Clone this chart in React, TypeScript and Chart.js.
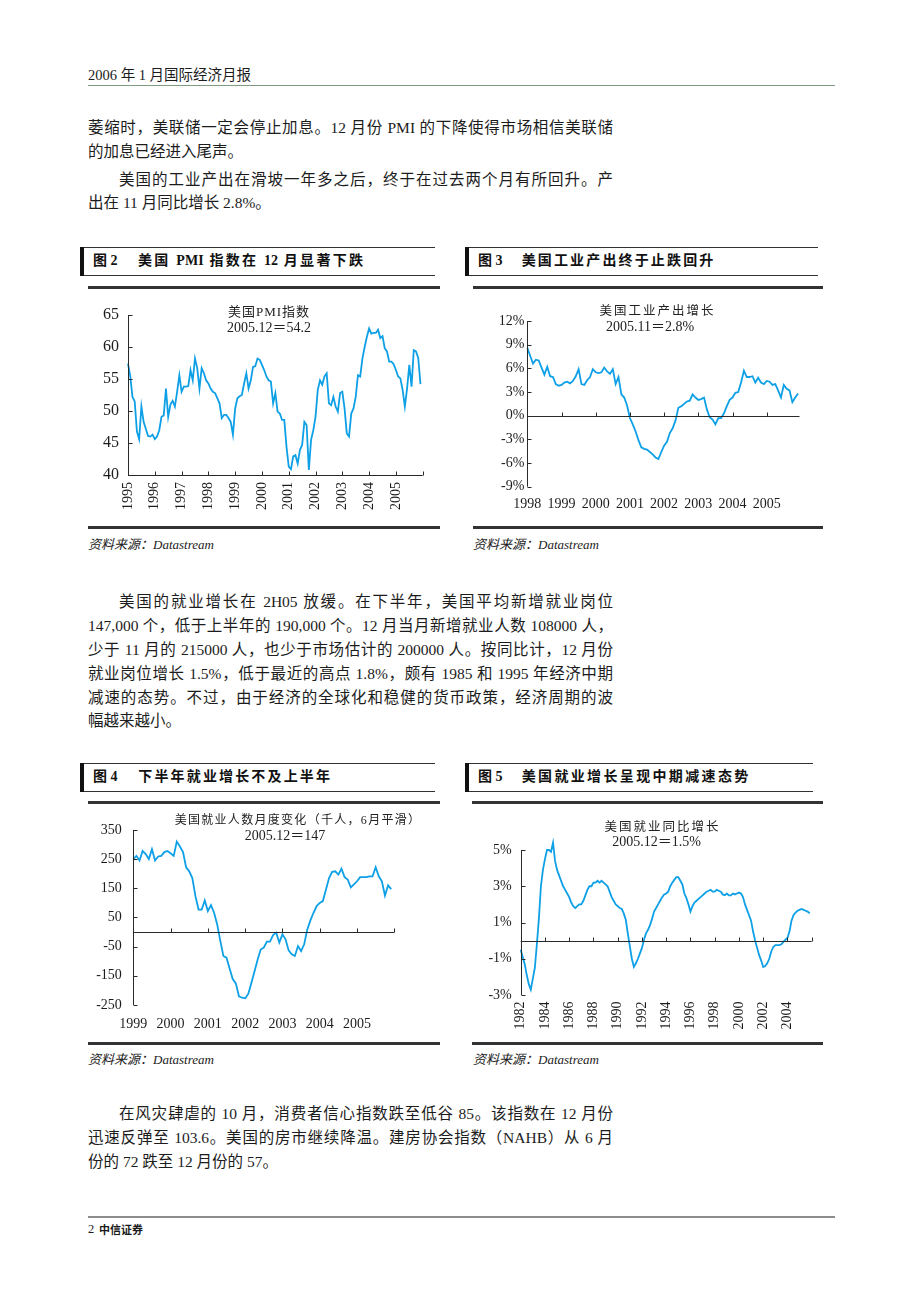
import React, { useEffect, useRef } from 'react';
import { Chart, registerables } from 'chart.js';

Chart.register(...registerables);

// ---------------- DATA ----------------
// Fig 2: US PMI, monthly Jan 1995 - Dec 2005
const PMI_YEARS = ['1995', '1996', '1997', '1998', '1999', '2000', '2001', '2002', '2003', '2004', '2005'];
const PMI_VALUES = [
  57.4, 55.5, 52.2, 51.5, 46.8, 45.6, 50.7, 48.3, 47.2, 46.1, 46.0, 46.3,
  45.6, 46.0, 47.0, 49.1, 49.3, 53.5, 49.1, 51.0, 51.6, 50.7, 53.0, 55.6,
  53.0, 53.8, 53.8, 53.9, 56.4, 54.8, 58.2, 56.7, 53.5, 56.7, 55.9, 54.8,
  54.3, 53.5, 53.0, 52.8, 52.0, 51.2, 48.9, 49.4, 49.4, 48.9, 48.3, 46.3,
  50.4, 52.0, 52.3, 52.5, 54.3, 55.9, 53.5, 54.8, 56.9, 57.0, 58.2, 58.0,
  57.2, 56.4, 55.4, 54.8, 54.6, 51.2, 52.8, 49.9, 49.6, 48.6, 48.6, 44.4,
  41.3, 40.9, 42.9, 43.1, 41.8, 43.9, 44.7, 48.3, 47.8, 40.8, 45.5, 47.0,
  49.1, 53.3, 54.8, 54.1, 55.4, 55.9, 51.2, 50.9, 52.2, 50.7, 49.9, 52.8,
  53.0, 50.4, 46.5, 46.0, 49.6, 50.4, 52.2, 55.6, 55.4, 58.2, 60.0, 61.6,
  62.9, 62.1, 62.2, 62.2, 62.7, 61.4, 61.7, 59.8, 59.3, 57.7, 57.7, 57.3,
  56.4, 55.4, 55.1, 53.3, 50.7, 53.5, 57.2, 53.8, 59.5, 59.3, 58.3, 54.2,
];
const PMI_Y_TICKS = [40, 45, 50, 55, 60, 65];

// Fig 3: US industrial production growth (%), monthly from 1998
const IP_YEARS = ['1998', '1999', '2000', '2001', '2002', '2003', '2004', '2005'];
const IP_VALUES = [
  8.6, 7.6, 6.6, 7.1, 7.0, 6.1, 5.2, 6.2, 5.0, 4.9, 4.0, 3.8,
  3.9, 4.2, 4.3, 4.1, 4.4, 5.0, 5.9, 4.0, 3.9, 4.5, 4.9, 5.9,
  5.5, 5.4, 5.5, 6.1, 5.6, 5.3, 5.9, 4.0, 4.9, 2.7, 2.3, 1.3,
  -0.3, -1.1, -2.0, -3.1, -4.0, -4.2, -4.3, -4.6, -4.9, -5.3, -5.5, -4.6,
  -3.8, -3.3, -2.2, -1.6, -0.6, 1.0, 1.2, 1.5, 1.8, 1.9, 2.7, 2.3,
  2.0, 2.1, 2.3, 0.8, -0.2, -0.5, -1.1, -0.3, -0.3, 0.3, 1.2, 2.0,
  2.3, 2.9, 3.0, 4.2, 5.7, 4.9, 4.9, 5.0, 4.2, 4.8, 4.2, 4.0,
  4.4, 4.3, 3.9, 4.0, 3.2, 2.3, 3.9, 3.4, 3.2, 1.7, 2.3, 2.8,
];
const IP_Y_TICKS = [-9, -6, -3, 0, 3, 6, 9, 12];

// Fig 4: US payroll monthly change (thousand, 6m smoothed), Jan 1999 - Dec 2005
const NFP_YEARS = ['1999', '2000', '2001', '2002', '2003', '2004', '2005'];
const NFP_VALUES = [
  250, 261, 245, 278, 267, 250, 284, 245, 259, 261, 274, 278,
  270, 261, 310, 293, 274, 222, 208, 185, 123, 77, 77, 108,
  72, 92, 66, 26, -30, -82, -88, -125, -161, -176, -220, -225,
  -227, -212, -175, -135, -95, -60, -53, -33, -33, -10, -2, -36,
  -8, -25, -63, -76, -82, -48, -65, -42, 9, 40, 66, 89,
  100, 106, 145, 185, 206, 208, 197, 217, 188, 180, 153, 163,
  174, 188, 188, 188, 191, 191, 222, 191, 174, 125, 160, 147,
];
const NFP_Y_TICKS = [-250, -150, -50, 50, 150, 250, 350];

// Fig 5: US employment YoY growth (%), bimonthly Jan 1982 - Nov 2005
const EMP_YEARS = ['1982', '1984', '1986', '1988', '1990', '1992', '1994', '1996', '1998', '2000', '2002', '2004'];
const EMP_VALUES = [
  -0.5, -0.9, -1.3, -1.9, -2.4, -2.7,
  -2.1, -1.5, -0.2, 1.2, 3.0, 3.9,
  4.5, 5.0, 5.0, 4.9, 5.4, 4.4,
  3.9, 3.6, 3.3, 3.0, 2.8, 2.6,
  2.4, 2.1, 1.9, 1.8, 1.9, 2.0,
  2.0, 2.2, 2.5, 2.8, 3.0, 3.0,
  3.2, 3.2, 3.3, 3.2, 3.3, 3.2,
  3.1, 3.0, 2.7, 2.4, 2.2, 2.0,
  1.9, 1.8, 1.75, 1.5, 1.15, 0.4,
  -0.3, -1.0, -1.45, -1.25, -1.0, -0.7,
  -0.4, 0.05, 0.4, 0.6, 0.85, 1.2,
  1.6, 1.8, 2.0, 2.2, 2.4, 2.55,
  2.6, 2.7, 3.0, 3.2, 3.35, 3.5,
  3.5, 3.3, 3.1, 2.6, 2.35, 2.0,
  1.6, 1.9, 2.1, 2.2, 2.3, 2.4,
  2.5, 2.6, 2.7, 2.75, 2.8, 2.7,
  2.7, 2.8, 2.75, 2.7, 2.55, 2.5,
  2.6, 2.5, 2.5, 2.6, 2.55, 2.6,
  2.65, 2.6, 2.4, 2.0, 1.7, 1.4,
  1.1, 0.5, 0.0, -0.4, -0.8, -1.1,
  -1.45, -1.4, -1.25, -1.0, -0.6, -0.35,
  -0.25, -0.25, -0.25, -0.2, -0.07, 0.05,
  0.15, 0.5, 1.1, 1.4, 1.55, 1.65,
  1.7, 1.75, 1.7, 1.65, 1.6, 1.5,
];
const EMP_Y_TICKS = [-3, -1, 1, 3, 5];

// ---------------- STYLE ----------------
const BLUE = '#0ea0e6';
const AXIS = '#2a2a2a';
const INK = '#1c1c1c';
const NUM_FONT = "'Liberation Serif', 'Times New Roman', serif";
const TEXT_FONT = "'Liberation Serif', 'Noto Sans CJK SC', serif";
const CJK_FONT = "'Noto Sans CJK SC', sans-serif";

const axesPlugin = {
  id: 'paperAxes',
  afterDatasetsDraw(chart: any, _args: any, opts: any) {
    const { ctx, chartArea: a, scales } = chart;
    const xs = scales.x;
    const ys = scales.y;
    ctx.save();
    ctx.strokeStyle = AXIS;
    ctx.lineWidth = 1;
    ctx.beginPath();
    const L = Math.round(a.left) + 0.5;
    ctx.moveTo(L, a.top);
    ctx.lineTo(L, a.bottom);
    (opts.yMarks || []).forEach((v: number) => {
      const y = Math.round(ys.getPixelForValue(v)) + 0.5;
      ctx.moveTo(L, y);
      ctx.lineTo(L + 4, y);
    });
    const y0 = Math.round(ys.getPixelForValue(opts.xAxisAt)) + 0.5;
    ctx.moveTo(a.left, y0);
    ctx.lineTo(a.right, y0);
    (opts.xMarks || []).forEach((v: number) => {
      const x = Math.round(xs.getPixelForValue(v)) + 0.5;
      ctx.moveTo(x, y0);
      ctx.lineTo(x, y0 - 4);
    });
    ctx.stroke();
    ctx.restore();
  },
};

type Spec = {
  left: number; top: number; width: number; height: number;
  points: { x: number; y: number }[];
  xMin: number; xMax: number;
  xLabels: { value: number; label: string }[];
  xMarks: number[];
  xAxisAt: number;
  yMin: number; yMax: number; yTicks: number[]; yFmt: (v: number) => string;
  yAxisWidth: number; xAxisHeight: number;
  padding: { top: number; right: number; bottom: number; left: number };
  yPad: number; xPad: number; rotate: number; yFont: number; xFont: number;
};

function LineChart({ spec }: { spec: Spec }) {
  const ref = useRef<HTMLCanvasElement>(null);
  useEffect(() => {
    const chart = new Chart(ref.current as HTMLCanvasElement, {
      type: 'line',
      data: {
        datasets: [{
          data: spec.points,
          borderColor: BLUE,
          borderWidth: 1.8,
          pointRadius: 0,
          tension: 0,
          fill: false,
          clip: false,
        }],
      },
      options: {
        animation: false,
        responsive: false,
        devicePixelRatio: 1,
        layout: { padding: spec.padding },
        plugins: {
          legend: { display: false },
          tooltip: { enabled: false },
          paperAxes: { xAxisAt: spec.xAxisAt, yMarks: spec.yTicks, xMarks: spec.xMarks },
        } as any,
        scales: {
          x: {
            type: 'linear',
            min: spec.xMin,
            max: spec.xMax,
            grid: { display: false, drawTicks: false },
            border: { display: false },
            afterBuildTicks: (s: any) => { s.ticks = spec.xLabels.map((l) => ({ value: l.value })); },
            afterFit: (s: any) => { s.height = spec.xAxisHeight; },
            ticks: {
              autoSkip: false,
              minRotation: spec.rotate,
              maxRotation: spec.rotate,
              padding: spec.xPad,
              color: INK,
              font: { family: NUM_FONT, size: spec.xFont },
              callback: (_v: any, i: number) => spec.xLabels[i] ? spec.xLabels[i].label : '',
            },
          },
          y: {
            type: 'linear',
            min: spec.yMin,
            max: spec.yMax,
            grid: { display: false, drawTicks: false },
            border: { display: false },
            afterBuildTicks: (s: any) => { s.ticks = spec.yTicks.map((v) => ({ value: v })); },
            afterFit: (s: any) => { s.width = spec.yAxisWidth; },
            ticks: {
              autoSkip: false,
              padding: spec.yPad,
              color: INK,
              font: { family: NUM_FONT, size: spec.yFont },
              callback: (v: any) => spec.yFmt(Number(v)),
            },
          },
        },
      } as any,
      plugins: [axesPlugin as any],
    });
    return () => chart.destroy();
  }, []);
  return (
    <canvas
      ref={ref}
      width={spec.width}
      height={spec.height}
      style={{ position: 'absolute', left: spec.left, top: spec.top, width: spec.width, height: spec.height }}
    />
  );
}

// ---------------- CHART SPECS ----------------
const pmiSpec: Spec = {
  left: 88, top: 295, width: 350, height: 232,
  points: PMI_VALUES.map((v, i) => ({ x: i, y: v })),
  xMin: 0, xMax: 132,
  xLabels: PMI_YEARS.map((l, k) => ({ value: k * 12, label: l })),
  xMarks: PMI_YEARS.map((_l, k) => (k + 1) * 12),
  xAxisAt: 40,
  yMin: 40, yMax: 65, yTicks: PMI_Y_TICKS, yFmt: (v) => String(v),
  yAxisWidth: 40, xAxisHeight: 45,
  padding: { top: 20, right: 15.3, bottom: 7, left: 0 },
  yPad: 9, xPad: 7, rotate: 90, yFont: 16, xFont: 14,
};

const ipSpec: Spec = {
  left: 472, top: 295, width: 352, height: 232,
  points: IP_VALUES.map((v, i) => ({ x: i, y: v })),
  xMin: 0, xMax: 95.5,
  xLabels: IP_YEARS.map((l, k) => ({ value: k * 12, label: l })),
  xMarks: IP_YEARS.slice(1).map((_l, k) => (k + 1) * 12),
  xAxisAt: 0,
  yMin: -9, yMax: 12, yTicks: IP_Y_TICKS, yFmt: (v) => v + '%',
  yAxisWidth: 55.3, xAxisHeight: 30,
  padding: { top: 26, right: 24.5, bottom: 10.3, left: 0 },
  yPad: 3, xPad: 9, rotate: 0, yFont: 14, xFont: 14,
};

const nfpSpec: Spec = {
  left: 88, top: 810, width: 350, height: 232,
  points: NFP_VALUES.map((v, i) => ({ x: i, y: v })),
  xMin: 0, xMax: 84,
  xLabels: NFP_YEARS.map((l, k) => ({ value: k * 12, label: l })),
  xMarks: NFP_YEARS.map((_l, k) => (k + 1) * 12),
  xAxisAt: 0,
  yMin: -250, yMax: 350, yTicks: NFP_Y_TICKS, yFmt: (v) => String(v),
  yAxisWidth: 45.3, xAxisHeight: 30,
  padding: { top: 19, right: 43.7, bottom: 7, left: 0 },
  yPad: 11.5, xPad: 10.5, rotate: 0, yFont: 14, xFont: 14,
};

const empSpec: Spec = {
  left: 472, top: 810, width: 352, height: 232,
  points: EMP_VALUES.map((v, i) => ({ x: 1982 + i / 6, y: v })),
  xMin: 1982, xMax: 2006,
  xLabels: EMP_YEARS.map((l) => ({ value: Number(l), label: l })),
  xMarks: EMP_YEARS.map((l) => Number(l) + 2),
  xAxisAt: 0,
  yMin: -3, yMax: 5, yTicks: EMP_Y_TICKS, yFmt: (v) => v + '%',
  yAxisWidth: 48.7, xAxisHeight: 40,
  padding: { top: 40, right: 12.3, bottom: 7, left: 0 },
  yPad: 9, xPad: 6.5, rotate: 90, yFont: 14, xFont: 14,
};

// ---------------- TEXT HELPERS ----------------
function Line(props: { x: number; y: number; text: string; w?: number; justify?: boolean; indent?: number; size?: number }) {
  const { x, y, text, w = 525, justify = false, indent = 0, size = 15.5 } = props;
  const lh = 20;
  return (
    <div
      style={{
        position: 'absolute', left: x, top: y - lh / 2, width: w, boxSizing: 'border-box',
        paddingLeft: indent, lineHeight: lh + 'px', fontSize: size, whiteSpace: 'nowrap',
        textAlign: justify ? 'justify' : 'left', textAlignLast: justify ? 'justify' : 'auto',
        fontFamily: TEXT_FONT, color: INK,
      } as any}
    >
      {text}
    </div>
  );
}

function Center(props: { cx: number; y: number; text: string; size: number; ls?: number; family?: string }) {
  const { cx, y, text, size, ls = 0, family = TEXT_FONT } = props;
  return (
    <div
      style={{
        position: 'absolute', left: cx - 200, width: 400, top: y - 10, lineHeight: '20px',
        textAlign: 'center', fontSize: size, letterSpacing: ls, whiteSpace: 'nowrap',
        fontFamily: family, color: '#222',
      }}
    >
      {text}
    </div>
  );
}

function Rect(props: { x: number; y: number; w: number; h: number; c: string }) {
  return <div style={{ position: 'absolute', left: props.x, top: props.y, width: props.w, height: props.h, background: props.c }} />;
}

function FigTitle(props: { x: number; y: number; right: number; num: string; text: string; textLeft: number; textWidth: number }) {
  const { x, y, right, num, text, textLeft, textWidth } = props;
  const h = 28;
  return (
    <>
      <Rect x={x} y={y} w={right - x} h={1} c="#333" />
      <Rect x={x} y={y + h} w={right - x} h={1} c="#333" />
      <Rect x={x} y={y} w={3.5} h={h + 1} c="#111" />
      <div style={{ position: 'absolute', left: x + 13, top: y + 4, lineHeight: '20px', fontSize: 14, fontWeight: 700, fontFamily: TEXT_FONT, color: '#111', whiteSpace: 'nowrap' }}>
        {'图 ' + num}
      </div>
      <div
        style={{
          position: 'absolute', left: textLeft, width: textWidth, top: y + 4, lineHeight: '20px', fontSize: 14,
          fontWeight: 700, fontFamily: TEXT_FONT, color: '#111', whiteSpace: 'nowrap',
          textAlign: 'justify', textAlignLast: 'justify',
        } as any}
      >
        {text}
      </div>
    </>
  );
}

function Source(props: { x: number; y: number }) {
  return (
    <div style={{ position: 'absolute', left: props.x, top: props.y - 9, lineHeight: '18px', fontSize: 13, fontStyle: 'italic', fontFamily: TEXT_FONT, color: '#222', whiteSpace: 'nowrap' }}>
      资料来源：Datastream
    </div>
  );
}

export default function App() {
  return (
    <div style={{ position: 'absolute', left: 0, top: 0, width: 920, height: 1302, background: '#fff', overflow: 'hidden' }}>
      {/* header */}
      <div style={{ position: 'absolute', left: 88, top: 66, lineHeight: '18px', fontSize: 14.5, fontFamily: TEXT_FONT, color: INK, whiteSpace: 'nowrap' }}>
        2006 年 1 月国际经济月报
      </div>
      <Rect x={88} y={84.5} w={747} h={1.5} c="#7f9c80" />

      {/* paragraph 1-2 */}
      <Line x={88} y={128} justify text="萎缩时，美联储一定会停止加息。12 月份 PMI 的下降使得市场相信美联储" />
      <Line x={88} y={152} text="的加息已经进入尾声。" />
      <Line x={88} y={180} justify indent={31} text="美国的工业产出在滑坡一年多之后，终于在过去两个月有所回升。产" />
      <Line x={88} y={203} text="出在 11 月同比增长 2.8%。" />

      {/* figure 2 & 3 */}
      <FigTitle x={80} y={247} right={435} num="2" text="美国 PMI 指数在 12 月显著下跌" textLeft={138} textWidth={225} />
      <FigTitle x={465} y={247} right={818} num="3" text="美国工业产出终于止跌回升" textLeft={521.7} textWidth={191.6} />
      <Rect x={88} y={285.5} w={352} h={3} c="#333" />
      <Rect x={473} y={285.5} w={350} h={3} c="#333" />
      <Rect x={88} y={525.5} w={352} h={3} c="#333" />
      <Rect x={473} y={525.5} w={350} h={3} c="#333" />
      <LineChart spec={pmiSpec} />
      <LineChart spec={ipSpec} />
      <Center cx={269} y={312} text="美国PMI指数" size={13} ls={1} />
      <Center cx={269} y={328} text="2005.12＝54.2" size={14} />
      <Center cx={657.5} y={311} text="美国工业产出增长" size={12.5} ls={2} />
      <Center cx={650} y={327} text="2005.11＝2.8%" size={14} />
      <Source x={88} y={545} />
      <Source x={473} y={545} />

      {/* paragraph 3 */}
      <Line x={88} y={602} justify indent={31} text="美国的就业增长在 2H05 放缓。在下半年，美国平均新增就业岗位" />
      <Line x={88} y={626} justify text="147,000 个，低于上半年的 190,000 个。12 月当月新增就业人数 108000 人，" />
      <Line x={88} y={650} justify text="少于 11 月的 215000 人，也少于市场估计的 200000 人。按同比计，12 月份" />
      <Line x={88} y={674} justify text="就业岗位增长 1.5%，低于最近的高点 1.8%，颇有 1985 和 1995 年经济中期" />
      <Line x={88} y={698} justify text="减速的态势。不过，由于经济的全球化和稳健的货币政策，经济周期的波" />
      <Line x={88} y={721} text="幅越来越小。" />

      {/* figure 4 & 5 */}
      <FigTitle x={80} y={763} right={435} num="4" text="下半年就业增长不及上半年" textLeft={138.3} textWidth={191.7} />
      <FigTitle x={465} y={763} right={813} num="5" text="美国就业增长呈现中期减速态势" textLeft={521.7} textWidth={226.6} />
      <Rect x={88} y={801} w={352} h={3} c="#333" />
      <Rect x={472} y={801} w={351} h={3} c="#333" />
      <Rect x={88} y={1041.5} w={352} h={3} c="#333" />
      <Rect x={472} y={1041.5} w={351} h={3} c="#333" />
      <LineChart spec={nfpSpec} />
      <LineChart spec={empSpec} />
      <Center cx={298} y={820} text="美国就业人数月度变化（千人，6月平滑）" size={12} ls={1.3} />
      <Center cx={285} y={836} text="2005.12＝147" size={14} />
      <Center cx={662.5} y={827} text="美国就业同比增长" size={12.5} ls={2} />
      <Center cx={656.7} y={842} text="2005.12＝1.5%" size={14} />
      <Source x={88} y={1060} />
      <Source x={473} y={1060} />

      {/* paragraph 4 */}
      <Line x={88} y={1114} justify indent={31} text="在风灾肆虐的 10 月，消费者信心指数跌至低谷 85。该指数在 12 月份" />
      <Line x={88} y={1138} justify text="迅速反弹至 103.6。美国的房市继续降温。建房协会指数（NAHB）从 6 月" />
      <Line x={88} y={1162} text="份的 72 跌至 12 月份的 57。" />

      {/* footer */}
      <Rect x={88} y={1216} w={747} h={1.5} c="#8c8c8c" />
      <div style={{ position: 'absolute', left: 88, top: 1220, lineHeight: '18px', fontSize: 12.5, fontFamily: NUM_FONT, color: INK, whiteSpace: 'nowrap' }}>2</div>
      <div style={{ position: 'absolute', left: 99, top: 1220, lineHeight: '18px', fontSize: 11, fontWeight: 700, fontFamily: CJK_FONT, color: INK, whiteSpace: 'nowrap' }}>中信证券</div>
    </div>
  );
}
